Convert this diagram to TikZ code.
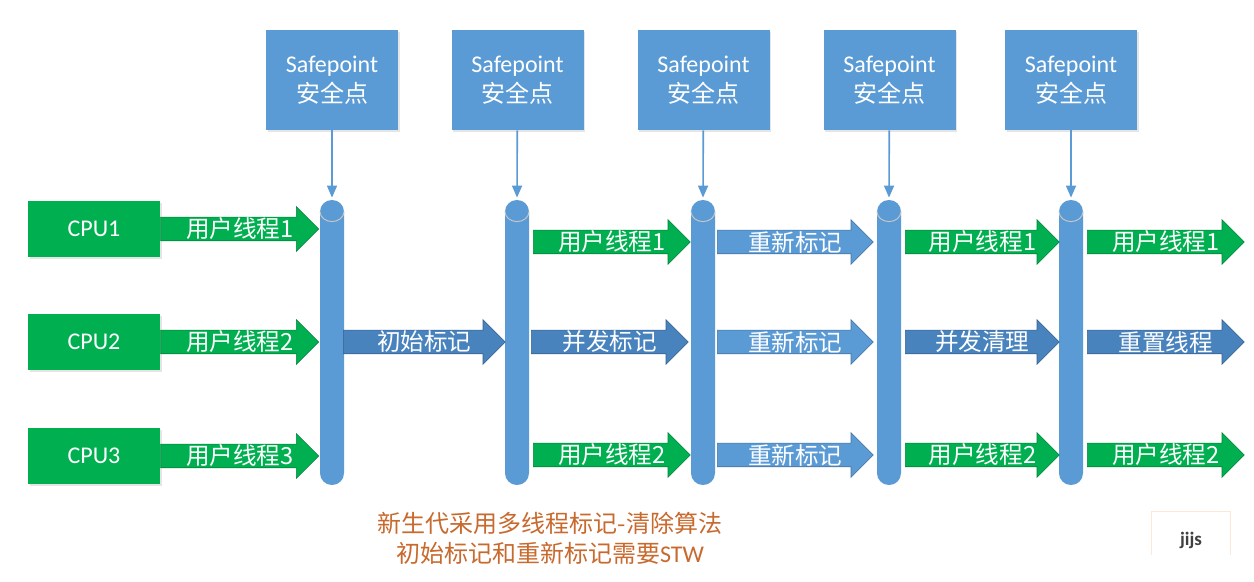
\documentclass[tikz,border=0pt]{standalone}
\usepackage{fontspec}
\setmainfont{Carlito}
\newfontfamily\cjk{Noto Sans CJK SC}
\usetikzlibrary{arrows.meta,calc,shapes.arrows,shadows}
\definecolor{spblue}{RGB}{91,155,213}
\definecolor{cpugreen}{RGB}{0,176,80}
\definecolor{phaseblue}{RGB}{72,131,190}
\definecolor{noteorange}{RGB}{200,105,45}
\definecolor{tagline}{RGB}{253,232,214}

\begin{document}
\begin{tikzpicture}[x=.5pt,y=-.5pt,
 box/.style={rectangle,fill=spblue,text=white,minimum width=66pt,inner sep=0pt,align=center,drop shadow={shadow xshift=.8pt,shadow yshift=-.8pt,opacity=.2}},
 spbox/.style={box,minimum height=50pt,font=\fontsize{12}{15}\selectfont},
 cpubox/.style={box,fill=cpugreen,minimum height=28pt,font=\fontsize{12}{14}\selectfont},
 pillar/.style={rectangle,rounded corners=5.9pt,fill=spblue,minimum width=12pt,minimum height=142.5pt,inner sep=0pt},
 rim/.style={draw=gray!45,line width=.5pt},
 phase/.style={single arrow,single arrow head extend=5.25pt,single arrow tip angle=90,single arrow head indent=0pt,inner xsep=0pt,inner ysep=0pt,text height=8.6pt,text depth=2.9pt,anchor=tail,fill=#1,draw=#1!75!black,line width=.3pt},
 phlabel/.style={text=white,inner sep=0pt,font=\fontsize{11.8}{14}\selectfont\cjk},
 spline/.style={draw=spblue,line width=.8pt,-{Triangle[width=5pt,length=6pt]},shorten >=1pt},
]
\fill[white](0,0)rectangle(1254,582);\useasboundingbox(0,0)rectangle(1254,582);
% safepoints
\node[spbox](sp1)at(332,80){Safepoint\\{\cjk 安全点}};\node[spbox](sp2)at(517.5,80){Safepoint\\{\cjk 安全点}};\node[spbox](sp3)at(703.5,80){Safepoint\\{\cjk 安全点}};
\node[spbox](sp4)at(889.5,80){Safepoint\\{\cjk 安全点}};\node[spbox](sp5)at(1071,80){Safepoint\\{\cjk 安全点}};
% pillars
\node[pillar](pl1)at(332,342.5){};\node[pillar](pl2)at(517,342.5){};\node[pillar](pl3)at(703,342.5){};\node[pillar](pl4)at(889,342.5){};\node[pillar](pl5)at(1071,342.5){};
\draw[rim]($(pl1.north)+(-12,12)$)arc[start angle=180,end angle=0,x radius=12,y radius=10];\draw[rim]($(pl2.north)+(-12,12)$)arc[start angle=180,end angle=0,x radius=12,y radius=10];
\draw[rim]($(pl3.north)+(-12,12)$)arc[start angle=180,end angle=0,x radius=12,y radius=10];\draw[rim]($(pl4.north)+(-12,12)$)arc[start angle=180,end angle=0,x radius=12,y radius=10];
\draw[rim]($(pl5.north)+(-12,12)$)arc[start angle=180,end angle=0,x radius=12,y radius=10];
\draw[spline](sp1)--(pl1.north);\draw[spline](sp2)--(pl2.north);\draw[spline](sp3)--(pl3.north);\draw[spline](sp4)--(pl4.north);\draw[spline](sp5)--(pl5.north);
% cpus
\node[cpubox](cpu1)at(94,229){CPU1};\node[cpubox](cpu2)at(94,342){CPU2};\node[cpubox](cpu3)at(94,456){CPU3};
% phases
\node[phase=cpugreen,minimum height=79pt](a01)at(cpu1.east){};\node[phase=cpugreen,minimum height=79pt](a02)at(cpu2.east){};\node[phase=cpugreen,minimum height=79pt](a03)at(cpu3.east){};
\node[phase=phaseblue,minimum height=81pt](a12)at(343,342){};
\node[phase=cpugreen,minimum height=78.5pt](a21)at(533,242){};\node[phase=phaseblue,minimum height=78.5pt](a22)at(531,342){};\node[phase=cpugreen,minimum height=78.5pt](a23)at(533,455){};
\node[phase=spblue,minimum height=78pt](a31)at(717,242){};\node[phase=spblue,minimum height=78pt](a32)at(717,342){};\node[phase=spblue,minimum height=78pt](a33)at(717,455){};
\node[phase=cpugreen,minimum height=77pt](a41)at(905,242){};\node[phase=phaseblue,minimum height=77pt](a42)at(905,342){};\node[phase=cpugreen,minimum height=77pt](a43)at(905,455){};
\node[phase=cpugreen,minimum height=78.5pt](a51)at(1087,242){};\node[phase=phaseblue,minimum height=78.5pt](a52)at(1087,342){};\node[phase=cpugreen,minimum height=78.5pt](a53)at(1087,455){};
\node[phlabel]at($(a01.tail)!.5!(a01.tip)$){用户线程1};\node[phlabel]at($(a02.tail)!.5!(a02.tip)$){用户线程2};\node[phlabel]at($(a03.tail)!.5!(a03.tip)$){用户线程3};
\node[phlabel]at($(a12.tail)!.5!(a12.tip)$){初始标记};
\node[phlabel]at($(a21.tail)!.5!(a21.tip)$){用户线程1};\node[phlabel]at($(a22.tail)!.5!(a22.tip)$){并发标记};\node[phlabel]at($(a23.tail)!.5!(a23.tip)$){用户线程2};
\node[phlabel]at($(a31.tail)!.5!(a31.tip)$){重新标记};\node[phlabel]at($(a32.tail)!.5!(a32.tip)$){重新标记};\node[phlabel]at($(a33.tail)!.5!(a33.tip)$){重新标记};
\node[phlabel]at($(a41.tail)!.5!(a41.tip)$){用户线程1};\node[phlabel]at($(a42.tail)!.5!(a42.tip)$){并发清理};\node[phlabel]at($(a43.tail)!.5!(a43.tip)$){用户线程2};
\node[phlabel]at($(a51.tail)!.5!(a51.tip)$){用户线程1};\node[phlabel]at($(a52.tail)!.5!(a52.tip)$){重置线程};\node[phlabel]at($(a53.tail)!.5!(a53.tip)$){用户线程2};
% note
\node[text=noteorange,align=center,font=\fontsize{12}{15}\selectfont](note)at(550,538){{\cjk 新生代采用多线程标记-清除算法}\\{\cjk 初始标记和重新标记需要}STW};
\node[minimum width=39pt,minimum height=21.5pt,inner sep=0pt](tag)at(1191,533.5){};\draw[draw=tagline,line width=.5pt](tag.south west)|-(tag.north east)--(tag.south east);
\node[text=black!75,font=\bfseries\fontsize{9.5}{10}\selectfont](tagtext)at($(tag.center)+(0,7)$){jijs};
\end{tikzpicture}
\end{document}
